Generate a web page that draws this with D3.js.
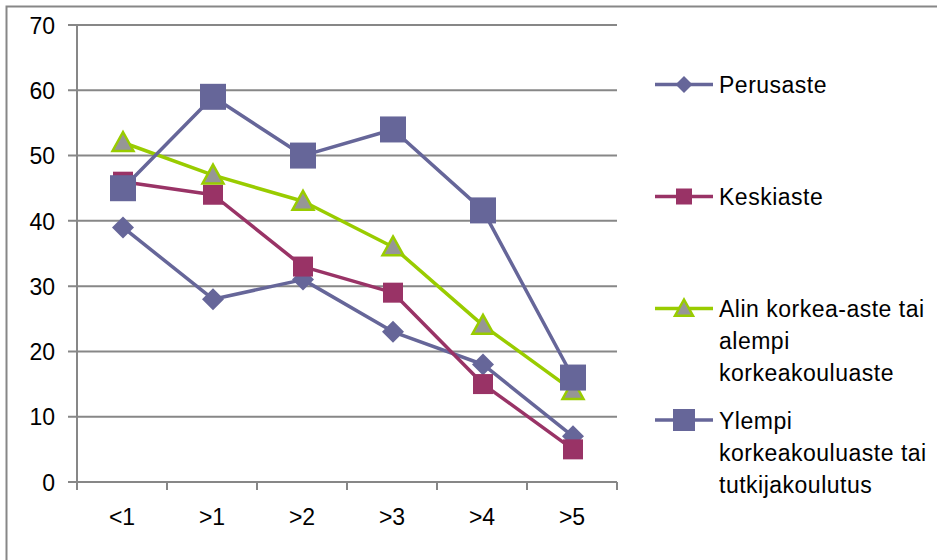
<!DOCTYPE html>
<html>
<head>
<meta charset="utf-8">
<script src="https://cdn.jsdelivr.net/npm/d3@7"></script>
<style>
  html, body { margin: 0; padding: 0; background: #fff; }
  svg { display: block; }
  text { font-family: "Liberation Sans", Arial, sans-serif; fill: #000; }
</style>
</head>
<body>
<svg id="chart" width="937" height="560"></svg>
<script>
// Categories (years) and y-axis ticks
const categories = ["<1", ">1", ">2", ">3", ">4", ">5"];
const yTicks = [0, 10, 20, 30, 40, 50, 60, 70];

// Series values
const perusaste = [39, 28, 31, 23, 18, 7];
const keskiaste = [46, 44, 33, 29, 15, 5];
const alinKorkea = [52, 47, 43, 36, 24, 14];
const ylempiKorkea = [45, 59, 50, 54, 41.6, 16];

// Series names (legend lines)
const seriesNames = [
  ["Perusaste"],
  ["Keskiaste"],
  ["Alin korkea-aste tai", "alempi", "korkeakouluaste"],
  ["Ylempi", "korkeakouluaste tai", "tutkijakoulutus"]
];

const series = [
  { name: seriesNames[0], values: perusaste, color: "#666699", marker: "diamond", size: 22, legendSize: 17, legendY: 84.5 },
  { name: seriesNames[1], values: keskiaste, color: "#993366", marker: "square", size: 20, legendSize: 16, legendY: 196.5 },
  { name: seriesNames[2], values: alinKorkea, color: "#99cc00", marker: "triangle", size: 21, legendSize: 18, legendY: 308.5 },
  { name: seriesNames[3], values: ylempiKorkea, color: "#666699", marker: "square", size: 26, legendSize: 22, legendY: 420 }
];

const svg = d3.select("#chart");
const gridColor = "#878787";
const fontSize = 23;

// outer frame
svg.append("rect")
  .attr("x", 6.5).attr("y", 6.5)
  .attr("width", 1000).attr("height", 1000)
  .attr("fill", "none")
  .attr("stroke", gridColor)
  .attr("stroke-width", 2);

const x = d3.scaleBand().domain(categories).range([77, 617]);
const y = d3.scaleLinear().domain([0, 70]).range([482, 25]);

// horizontal gridlines
svg.append("g")
  .selectAll("line")
  .data(yTicks)
  .join("line")
  .attr("x1", 68).attr("x2", 617)
  .attr("y1", d => y(d)).attr("y2", d => y(d))
  .attr("stroke", gridColor)
  .attr("stroke-width", 2);

// y axis
const yAxis = svg.append("g")
  .attr("transform", "translate(77,0)")
  .call(d3.axisLeft(y).tickValues(yTicks).tickSize(9).tickPadding(13).tickFormat(d3.format("d")));
yAxis.select(".domain").remove();
yAxis.selectAll(".tick line").remove();
yAxis.selectAll("text")
  .attr("font-size", fontSize)
  .attr("dy", "0.36em")
  .style("font-family", "'Liberation Sans', Arial, sans-serif");

svg.append("line")
  .attr("x1", 77).attr("x2", 77)
  .attr("y1", 25).attr("y2", 490)
  .attr("stroke", gridColor).attr("stroke-width", 2);

// x axis
const xAxis = svg.append("g")
  .attr("transform", "translate(0,482)")
  .call(d3.axisBottom(x).tickSize(0).tickPadding(27));
xAxis.select(".domain").remove();
xAxis.selectAll("text")
  .attr("font-size", fontSize)
  .attr("dy", "0.71em")
  .style("font-family", "'Liberation Sans', Arial, sans-serif");

// category boundary ticks
const boundaries = categories.map(c => x(c)).concat([x(categories[categories.length - 1]) + x.bandwidth()]);
svg.append("g")
  .selectAll("line")
  .data(boundaries)
  .join("line")
  .attr("x1", d => d).attr("x2", d => d)
  .attr("y1", 482).attr("y2", 490)
  .attr("stroke", gridColor).attr("stroke-width", 2);

const cx = c => x(c) + x.bandwidth() / 2 + 1;

function drawMarker(g, type, px, py, size, color) {
  if (type === "diamond") {
    const h = size / 2;
    g.append("path")
      .attr("d", `M${px},${py - h}L${px + h},${py}L${px},${py + h}L${px - h},${py}Z`)
      .attr("fill", color);
  } else if (type === "square") {
    g.append("rect")
      .attr("x", px - size / 2).attr("y", py - size / 2)
      .attr("width", size).attr("height", size)
      .attr("fill", color);
  } else if (type === "triangle") {
    const h = size / 2;
    g.append("path")
      .attr("d", `M${px},${py - h}L${px + h},${py + h * 0.8}L${px - h},${py + h * 0.8}Z`)
      .attr("fill", "#969696")
      .attr("stroke", color)
      .attr("stroke-width", 2.5)
      .attr("stroke-linejoin", "miter");
  }
}

const line = d3.line()
  .x((d, i) => cx(categories[i]))
  .y(d => y(d));

// lines and markers, series by series
series.forEach(s => {
  const g = svg.append("g");
  g.append("path")
    .datum(s.values)
    .attr("d", line)
    .attr("fill", "none")
    .attr("stroke", s.color)
    .attr("stroke-width", 3.5)
    .attr("stroke-linejoin", "round");
  s.values.forEach((v, i) => drawMarker(g, s.marker, cx(categories[i]), y(v), s.size, s.color));
});

// legend
const legend = svg.append("g");
series.forEach(s => {
  const ly = s.legendY;
  legend.append("line")
    .attr("x1", 655).attr("x2", 713)
    .attr("y1", ly).attr("y2", ly)
    .attr("stroke", s.color).attr("stroke-width", 3.5);
  drawMarker(legend, s.marker, 684, ly, s.legendSize, s.color);
  const t = legend.append("text")
    .attr("x", 719)
    .attr("y", ly + 8.5)
    .attr("font-size", fontSize)
    .attr("letter-spacing", 0.5);
  s.name.forEach((ln, k) => {
    t.append("tspan").attr("x", 719).attr("y", ly + 8.5 + k * 32).text(ln);
  });
});
</script>
</body>
</html>
